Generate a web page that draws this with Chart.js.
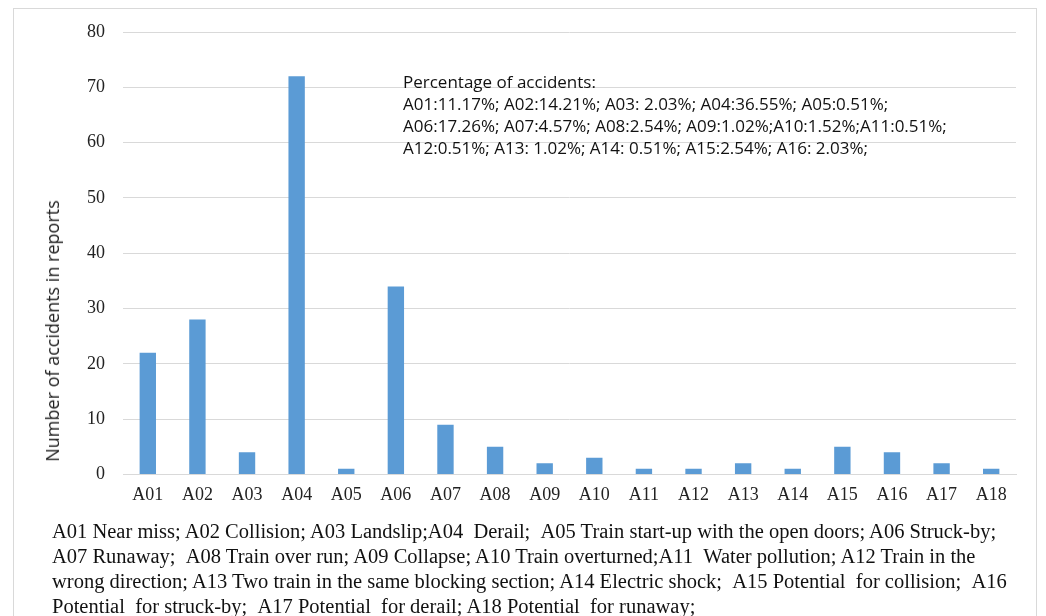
<!DOCTYPE html>
<html>
<head>
<meta charset="utf-8">
<script src="https://cdn.jsdelivr.net/npm/chart.js@4/dist/chart.umd.min.js"></script>
<style>
  body { margin: 0; background: #fff; }
  #frame {
    position: absolute; left: 13px; top: 8px; width: 1024px; height: 640px;
    border: 1px solid #d9d9d9; box-sizing: border-box;
  }
  #wrap { position: absolute; left: 0; top: 0; width: 1046px; height: 522px; }
  #ytitle {
    position: absolute; left: 52px; top: 331px;
    transform: translate(-50%, -50%) rotate(-90deg);
    font-family: "Open Sans", sans-serif; font-size: 18px; color: #222;
    white-space: nowrap;
  }
  #pct {
    position: absolute; left: 403px; top: 71px;
    font-family: "Open Sans", sans-serif; font-size: 17px; line-height: 22px; color: #111;
    white-space: nowrap;
  }
  #legend {
    position: absolute; left: 52px; top: 519px; width: 990px;
    font-family: "Liberation Serif", "Times New Roman", serif; font-size: 20.5px;
    line-height: 25px; color: #111; white-space: nowrap;
  }
</style>
</head>
<body>
<div id="frame"></div>
<div id="wrap"><canvas id="accChart"></canvas></div>
<div id="ytitle">Number of accidents in reports</div>
<div id="pct"></div>
<div id="legend"></div>
<script>
// accident codes and counts
const codes = ["A01", "A02", "A03", "A04", "A05", "A06", "A07", "A08", "A09",
  "A10", "A11", "A12", "A13", "A14", "A15", "A16", "A17", "A18"];
const counts = [22, 28, 4, 72, 1, 34, 9, 5, 2, 3, 1, 1, 2, 1, 5, 4, 2, 1];
const yTicks = [0, 10, 20, 30, 40, 50, 60, 70, 80];

const pctLines = [
  "Percentage of accidents:",
  "A01:11.17%; A02:14.21%; A03: 2.03%; A04:36.55%; A05:0.51%;",
  "A06:17.26%; A07:4.57%; A08:2.54%; A09:1.02%;A10:1.52%;A11:0.51%;",
  "A12:0.51%; A13: 1.02%; A14: 0.51%; A15:2.54%; A16: 2.03%;",
];
const legendLines = [
  "A01 Near miss; A02 Collision; A03 Landslip;A04 &nbsp;Derail; &nbsp;A05 Train start-up with the open doors; A06 Struck-by;",
  "A07 Runaway; &nbsp;A08 Train over run; A09 Collapse; A10 Train overturned;A11 &nbsp;Water pollution; A12 Train in the",
  "wrong direction; A13 Two train in the same blocking section; A14 Electric shock; &nbsp;A15 Potential &nbsp;for collision; &nbsp;A16",
  "Potential &nbsp;for struck-by; &nbsp;A17 Potential &nbsp;for derail; A18 Potential &nbsp;for runaway;",
];

document.getElementById("pct").innerHTML = pctLines.join("<br>");
document.getElementById("legend").innerHTML = legendLines.join("<br>");

const serif = "'Liberation Serif', 'Times New Roman', serif";
const ctx = document.getElementById("accChart").getContext("2d");
new Chart(ctx, {
  type: "bar",
  data: {
    labels: codes,
    datasets: [
      {
        label: "Accidents",
        data: counts,
        backgroundColor: "#5b9bd5",
        borderWidth: 0,
        categoryPercentage: 1,
        barPercentage: 0.33,
      },
    ],
  },
  options: {
    responsive: true,
    maintainAspectRatio: false,
    animation: false,
    layout: { padding: { top: 32, right: 30, bottom: 6, left: 0 } },
    plugins: {
      legend: { display: false },
      tooltip: { enabled: false },
    },
    scales: {
      x: {
        grid: { display: false, drawTicks: false },
        border: { color: "#d9d9d9", width: 1 },
        ticks: { font: { family: serif, size: 18 }, color: "#222", padding: 10 },
      },
      y: {
        min: 0,
        max: 80,
        afterBuildTicks: (scale) => {
          scale.ticks = yTicks.map((v) => ({ value: v }));
        },
        afterFit: (scale) => {
          scale.width = 123;
        },
        grid: { color: "#d9d9d9", drawTicks: false },
        border: { display: false },
        ticks: { font: { family: serif, size: 18 }, color: "#222", padding: 18 },
      },
    },
  },
});
</script>
</body>
</html>
